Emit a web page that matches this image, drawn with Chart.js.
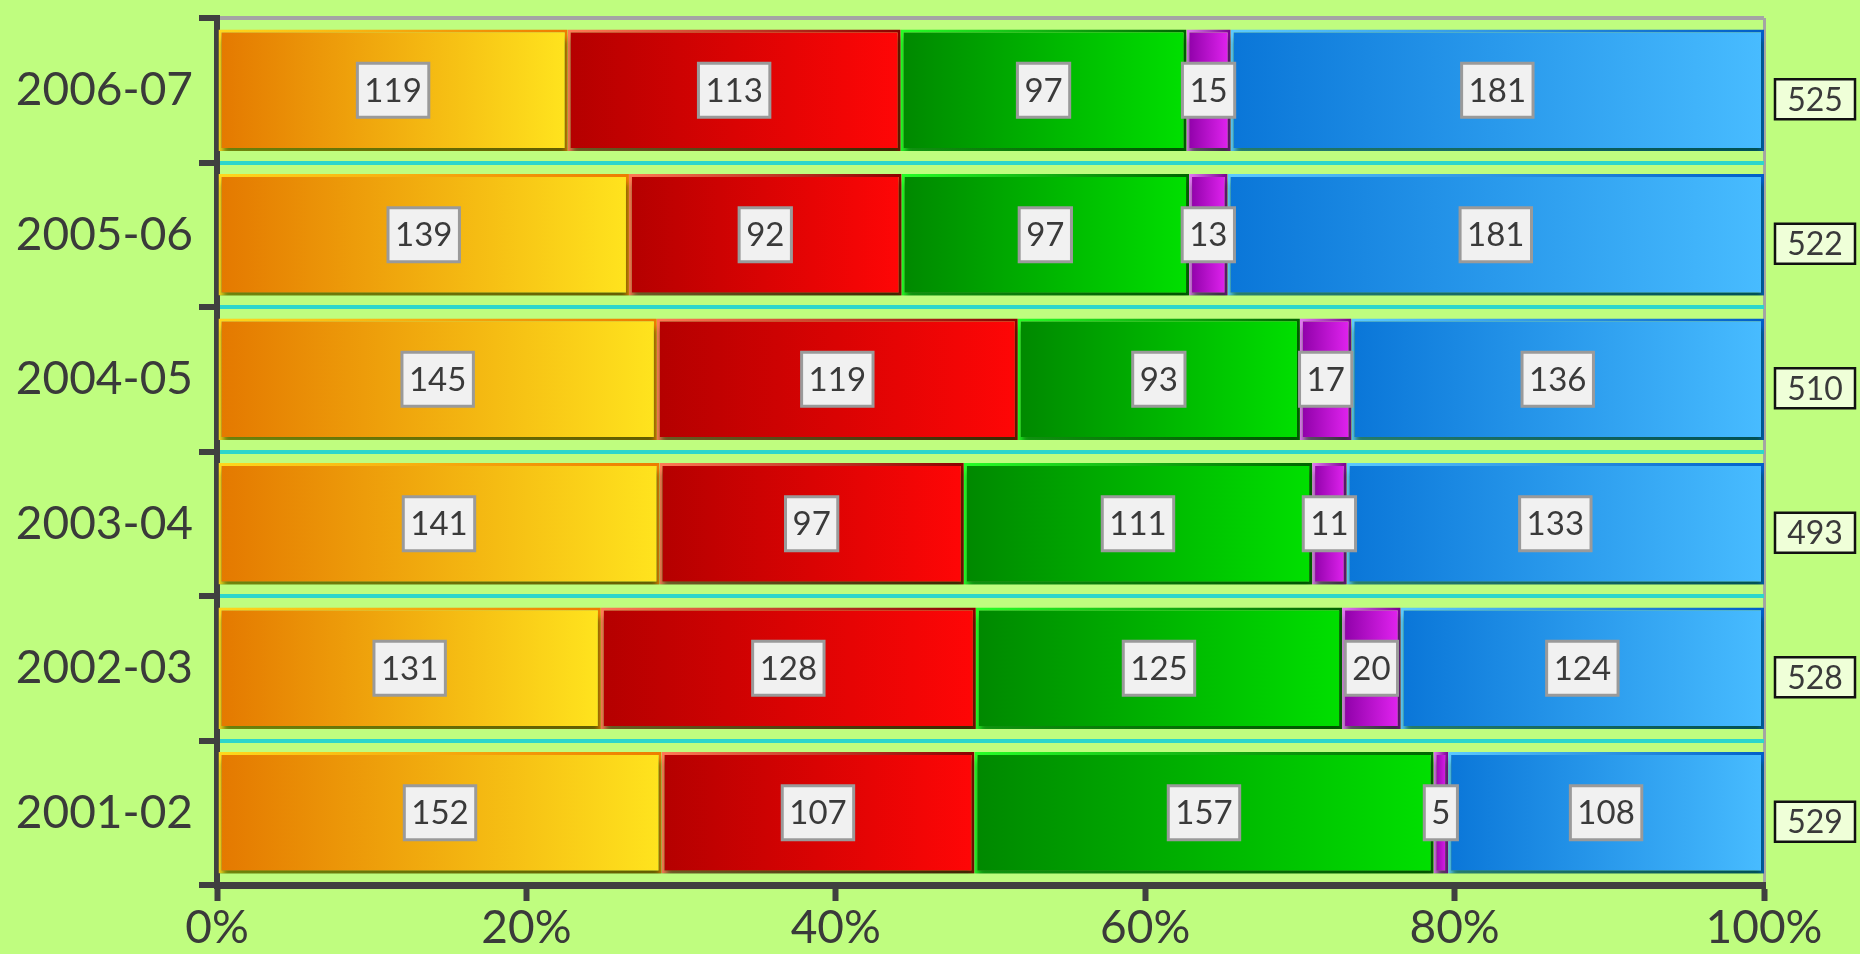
<!DOCTYPE html>
<html><head><meta charset="utf-8">
<script src="https://cdn.jsdelivr.net/npm/chart.js@4.4.0/dist/chart.umd.min.js"></script>
<style>html,body{margin:0;padding:0;background:#bffd7f;overflow:hidden}</style>
</head><body><canvas id="c" width="1860" height="954"></canvas>
<script>
const categories = ['2006-07','2005-06','2004-05','2003-04','2002-03','2001-02'];
const seriesA = [119,139,145,141,131,152];
const seriesB = [113,92,119,97,128,107];
const seriesC = [97,97,93,111,125,157];
const seriesD = [15,13,17,11,20,5];
const seriesE = [181,181,136,133,124,108];
const totals = [525,522,510,493,528,529];
const xTickLabels = ['0%','20%','40%','60%','80%','100%'];

const seriesList = [seriesA, seriesB, seriesC, seriesD, seriesE];
const pcts = seriesList.map(s => s.map((v, i) => v / totals[i] * 100));

const fills = [['#e47800','#ffe41e'],['#b40000','#ff0606'],['#008800','#00e000'],['#8c00a6','#e424f2'],['#0a76d8','#48bcff']];
const borders = [['#ffd81c','#ee7c00'],['#ff7a55','#8a0000'],['#26ff26','#006400'],['#e27af2','#780090'],['#5ccaff','#005ec8']];

function grad(pair){
  return (ctx) => {
    const ch = ctx.chart, xs = ch.scales && ch.scales.x;
    if (!xs || ctx.type !== 'data') return pair[0];
    const ds = ctx.datasetIndex, i = ctx.dataIndex;
    let start = 0;
    for (let k = 0; k < ds; k++) start += pcts[k][i];
    const end = start + pcts[ds][i];
    const x0 = xs.getPixelForValue(start), x1 = xs.getPixelForValue(end);
    if (!isFinite(x0) || !isFinite(x1) || x1 - x0 < 1) return pair[0];
    const g = ch.ctx.createLinearGradient(x0, 0, x1, 0);
    g.addColorStop(0, pair[0]); g.addColorStop(1, pair[1]);
    return g;
  };
}

const FONT = 'Lato, "Open Sans", sans-serif';
const TXT = '#3a3a3a';

const decor = {
  id: 'decor',
  beforeDatasetsDraw(chart){
    const c = chart.ctx; c.save();
    c.shadowColor = 'rgba(0,70,0,0.6)'; c.shadowBlur = 6; c.shadowOffsetY = 7; c.shadowOffsetX = 1;
  },
  afterDatasetsDraw(chart){
    const c = chart.ctx; c.restore();
    c.save();
    c.textAlign = 'center'; c.textBaseline = 'middle';
    c.font = '33px ' + FONT;
    chart.data.datasets.forEach((ds, di) => {
      const meta = chart.getDatasetMeta(di);
      meta.data.forEach((el, i) => {
        const p = el.getProps(['x','y','base'], true);
        const cx = (p.x + p.base) / 2, cy = p.y;
        const txt = String(seriesList[di][i]);
        const w = c.measureText(txt).width + 14, h = 54;
        c.fillStyle = '#f1f1f1'; c.strokeStyle = '#9a9a9a'; c.lineWidth = 3;
        c.fillRect(cx - w/2, cy - h/2, w, h);
        c.strokeRect(cx - w/2, cy - h/2, w, h);
        c.fillStyle = TXT; c.fillText(txt, cx, cy + 1);
      });
    });
    // totals at right
    const meta0 = chart.getDatasetMeta(0);
    c.font = '32px ' + FONT;
    meta0.data.forEach((el, i) => {
      const cy = el.y + 9, cx = chart.chartArea.right + 51;
      const txt = String(totals[i]);
      const w = 80, h = 40;
      c.fillStyle = '#efffd8'; c.strokeStyle = '#111'; c.lineWidth = 2.5;
      c.fillRect(cx - w/2, cy - h/2, w, h);
      c.strokeRect(cx - w/2, cy - h/2, w, h);
      c.fillStyle = TXT; c.fillText(txt, cx, cy + 1);
    });
    c.restore();
  }
};

new Chart(document.getElementById('c'), {
  type: 'bar',
  data: {
    labels: categories,
    datasets: seriesList.map((s, k) => ({
      label: 'Series ' + (k + 1),
      data: pcts[k],
      backgroundColor: grad(fills[k]),
      borderColor: grad(borders[k]),
      borderWidth: 3,
      borderSkipped: false,
      barPercentage: 0.84,
      categoryPercentage: 1
    }))
  },
  options: {
    indexAxis: 'y',
    responsive: false,
    devicePixelRatio: 1,
    animation: false,
    layout: { padding: { top: 18, right: 96, left: 8, bottom: 0 } },
    plugins: { legend: { display: false }, tooltip: { enabled: false } },
    scales: {
      x: {
        stacked: true, min: 0, max: 100,
        ticks: { stepSize: 20, color: TXT, font: { family: FONT, size: 46 }, padding: 0,
                 callback: (v, i) => xTickLabels[i] },
        grid: { color: (ctx) => ctx.index === 5 ? '#a4a4a4' : 'rgba(0,0,0,0)', lineWidth: 3,
                tickColor: '#404040', tickWidth: 6, tickLength: 16 },
        border: { display: true, color: '#404040', width: 7 },
        afterFit: (s) => { s.height = 69; }
      },
      y: {
        stacked: true,
        ticks: { color: TXT, font: { family: FONT, size: 46 }, padding: 6 },
        grid: { offset: true, color: (ctx) => ctx.index === 0 ? '#a4a4a4' : '#2cd6cc', lineWidth: 4,
                tickColor: '#404040', tickWidth: 6, tickLength: 18 },
        border: { display: true, color: '#404040', width: 6 },
        afterFit: (s) => { s.width = 209; s.paddingTop = 0; s.paddingBottom = 0; }
      }
    }
  },
  plugins: [decor]
});
</script></body></html>
